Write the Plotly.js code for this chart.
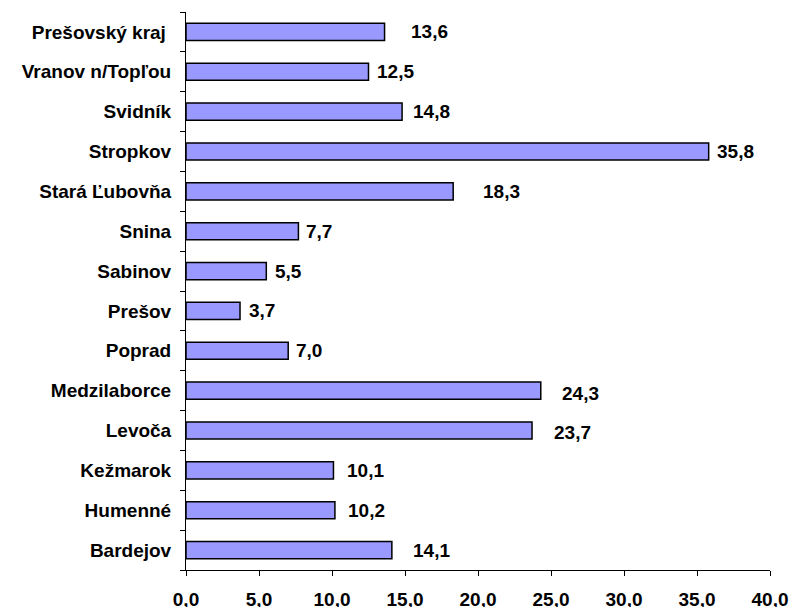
<!DOCTYPE html>
<html>
<head>
<meta charset="utf-8">
<script src="https://cdn.plot.ly/plotly-3.0.1.min.js"></script>
<style>html,body{margin:0;padding:0;background:#fff;}#chart{width:791px;height:607px;}</style>
</head>
<body>
<div id="chart"></div>
<script>
const categories = ["Prešovský kraj\u00a0","Vranov n/Topľou","Svidník","Stropkov","Stará Ľubovňa","Snina","Sabinov","Prešov","Poprad","Medzilaborce","Levoča","Kežmarok","Humenné","Bardejov"];
const values = [13.6,12.5,14.8,35.8,18.3,7.7,5.5,3.7,7.0,24.3,23.7,10.1,10.2,14.1];
const valueLabels = ["13,6","12,5","14,8","35,8","18,3","7,7","5,5","3,7","7,0","24,3","23,7","10,1","10,2","14,1"];
const tickVals = [0,5,10,15,20,25,30,35,40];
const tickLabels = ["0,0","5,0","10,0","15,0","20,0","25,0","30,0","35,0","40,0"];
// label offsets (style)
const labelXShift = [24,6,9,6,28,6,7,7,6,19,20,12,11,19];
const labelYShift = [0,0,0,0,0,0,0,0,0,-3,-2,0,0,0];

const font = {family:"Liberation Sans, Arial, sans-serif", size:19, color:"#000"};

const trace = {
  type:"bar", orientation:"h",
  x: values, y: categories,
  marker:{color:"#9999FF", line:{color:"#000", width:1.5}},
  hoverinfo:"none"
};

const annotations = categories.map((c,i)=>({
  x: values[i], y: c, xref:"x", yref:"y",
  text: "<b>"+valueLabels[i]+"</b>", showarrow:false,
  xanchor:"left", yanchor:"middle",
  xshift: labelXShift[i], yshift: labelYShift[i],
  font: font
}));

const layout = {
  width:791, height:607,
  margin:{l:186, r:21, t:12, b:37, pad:0},
  paper_bgcolor:"#fff", plot_bgcolor:"#fff",
  showlegend:false,
  bargap:0.57,
  separators:",.",
  font: font,
  xaxis:{
    range:[0,40], tickvals:tickVals, ticktext:tickLabels.map(t=>"<b>"+t+"</b>"),
    ticks:"outside", ticklen:5, tickcolor:"#000", tickwidth:1,
    showline:true, linecolor:"#000", linewidth:1,
    showgrid:false, zeroline:false, ticklabelstandoff:7,
    tickfont:font, fixedrange:true
  },
  yaxis:{
    type:"category", autorange:"reversed",
    tickvals:categories, ticktext:categories.map(t=>"<b>"+t+"</b>"),
    ticks:"outside", ticklen:5, tickcolor:"#000", tickwidth:1, tickson:"boundaries",
    showline:true, linecolor:"#000", linewidth:1,
    showgrid:false, zeroline:false, ticklabelstandoff:10,
    tickfont:font, fixedrange:true
  },
  annotations: annotations
};

Plotly.newPlot("chart",[trace],layout,{displayModeBar:false,staticPlot:true});
</script>
</body>
</html>
